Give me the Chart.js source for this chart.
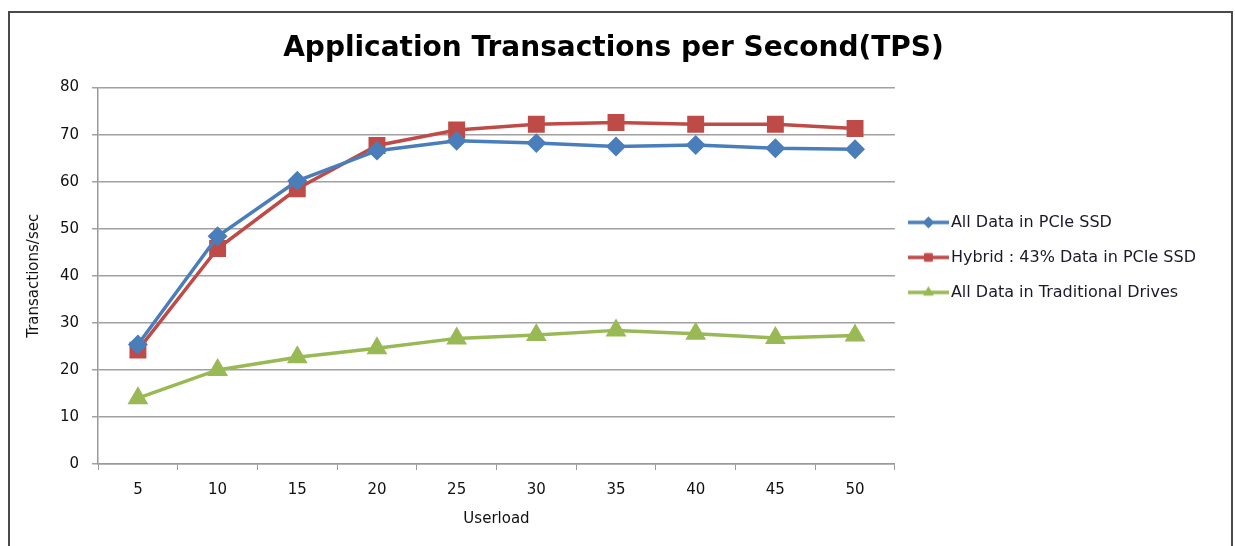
<!DOCTYPE html>
<html>
<head>
<meta charset="utf-8">
<script src="https://cdn.jsdelivr.net/npm/chart.js@4/dist/chart.umd.min.js"></script>
<style>
  body { margin: 0; background: #fff; }
  #wrap { position: relative; width: 1235px; height: 546px; overflow: hidden; }
  #frame { position: absolute; left: 8px; top: 11px; width: 1225px; height: 600px; border: 2px solid #4a4a4a; box-sizing: border-box; }
  #tps_chart { position: absolute; left: 0; top: 0; }
</style>
</head>
<body>
<div id="wrap">
  <div id="frame"></div>
  <canvas id="tps_chart" width="1235" height="546"></canvas>
</div>
<script>
const chart = document.getElementById('tps_chart');

// data
var userload = ['5', '10', '15', '20', '25', '30', '35', '40', '45', '50']
var allSsd = [25.4, 48.4, 60.2, 66.6, 68.7, 68.2, 67.5, 67.8, 67.1, 66.9]
var hybrid = [24.2, 45.8, 58.5, 67.7, 71.0, 72.2, 72.6, 72.2, 72.2, 71.3]
var traditional = [14.0, 20.0, 22.7, 24.6, 26.7, 27.4, 28.4, 27.7, 26.8, 27.3]
var yTicks = [0, 10, 20, 30, 40, 50, 60, 70, 80]

var seriesNames = ['All Data in PCIe SSD', 'Hybrid : 43% Data in PCIe SSD', 'All Data in Traditional Drives']
var colors = ['#4a7ebb', '#be4b48', '#98b954']
var markers = ['rectRot', 'rect', 'triangle']
var markerSize = [7.5, 9.5, 8.5]

// little line+marker picture for the legend
function legendIcon(color, style) {
    var c = document.createElement('canvas');
    c.width = 41; c.height = 16;
    var ctx = c.getContext('2d');
    ctx.strokeStyle = color;
    ctx.fillStyle = color;
    ctx.lineWidth = 3.5;
    ctx.beginPath();
    ctx.moveTo(0, 8); ctx.lineTo(41, 8);
    ctx.stroke();
    ctx.lineWidth = 1;
    Chart.helpers.drawPoint(ctx, {pointStyle: style, radius: 5.5, borderWidth: 1}, 20.5, 8);
    return c;
}

function makeSet(i, values) {
    return {
        label: seriesNames[i],
        data: values,
        borderColor: colors[i],
        backgroundColor: colors[i],
        borderWidth: 3.5,
        pointStyle: markers[i],
        pointRadius: markerSize[i],
        pointHoverRadius: markerSize[i],
        tension: 0
    }
}

new Chart(chart, {
    type: 'line',
    data: {
        labels: userload,
        datasets: [
            makeSet(0, allSsd),
            makeSet(1, hybrid),
            makeSet(2, traditional)
        ]
    },
    options: {
        responsive: false,
        animation: false,
        layout: {padding: {left: 21, right: 29, top: 14, bottom: 14}},
        plugins: {
            title: {
                display: true,
                text: 'Application Transactions per Second(TPS)',
                color: '#000',
                font: {family: 'DejaVu Sans', size: 28, weight: 'bold'},
                padding: {top: 18, bottom: 22}
            },
            legend: {
                position: 'right',
                align: 'start',
                maxWidth: 400,
                title: {display: true, text: '', padding: {top: 0, bottom: 167}},
                labels: {
                    usePointStyle: true,
                    pointStyleWidth: 29,
                    padding: 19,
                    color: '#1a1a2a',
                    font: {family: 'DejaVu Sans', size: 16},
                    generateLabels: function (c) {
                        var items = Chart.defaults.plugins.legend.labels.generateLabels(c);
                        items.forEach(function (it, i) { it.pointStyle = legendIcon(colors[i], markers[i]); });
                        return items;
                    }
                }
            },
            tooltip: {enabled: false}
        },
        scales: {
            x: {
                offset: true,
                grid: {offset: true, drawOnChartArea: false, drawTicks: true, tickLength: 6, color: '#999'},
                border: {color: '#999', width: 1.5},
                ticks: {color: '#111', font: {family: 'DejaVu Sans', size: 15}, padding: 11},
                title: {display: true, text: 'Userload', color: '#111', font: {family: 'DejaVu Sans', size: 15}, padding: {top: 0}}
            },
            y: {
                min: 0,
                max: 80,
                afterBuildTicks: function (axis) { axis.ticks = yTicks.map(function (v) { return {value: v}; }); },
                grid: {color: '#a0a0a0', lineWidth: 1.5, tickLength: 6},
                border: {color: '#999', width: 1.5},
                ticks: {color: '#111', font: {family: 'DejaVu Sans', size: 15}, padding: 13},
                title: {display: true, text: 'Transactions/sec', color: '#111', font: {family: 'DejaVu Sans', size: 15}, padding: {bottom: 4}}
            }
        }
    }
});
</script>
</body>
</html>
